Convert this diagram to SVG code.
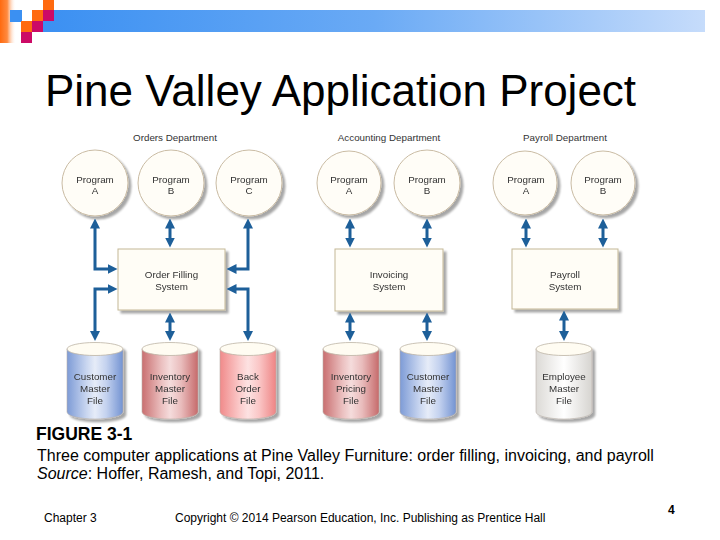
<svg xmlns="http://www.w3.org/2000/svg" width="720" height="540" viewBox="0 0 720 540">
<style>
  .t{font-family:"Liberation Sans",Arial,sans-serif;fill:#000}
  .d{font-family:"Liberation Sans",Arial,sans-serif;font-size:9.8px;fill:#333;text-anchor:middle}
  .circ{fill:#fffdf7;stroke:#c9bba3;stroke-width:1}
  .box{fill:#fffdf6;stroke:#c4b796;stroke-width:1}
  .cyltop{fill:#fffcf2;stroke:#bdb4a4;stroke-width:0.8}
  .cylbody{stroke:#b8b0a8;stroke-width:0.6}
  .conn{fill:none;stroke:#1d5f99;stroke-width:3;marker-start:url(#ah);marker-end:url(#ah)}
</style>
<defs>
  <linearGradient id="bar" x1="0" y1="0" x2="1" y2="0">
    <stop offset="0" stop-color="#3b90f2"/>
    <stop offset="0.5" stop-color="#6aaaf5"/>
    <stop offset="1" stop-color="#c6dcfb"/>
  </linearGradient>
  <linearGradient id="orng" x1="0" y1="0" x2="1" y2="0">
    <stop offset="0" stop-color="#ff6a10"/>
    <stop offset="0.45" stop-color="#ff8a40"/>
    <stop offset="1" stop-color="#ffffff" stop-opacity="0"/>
  </linearGradient>
  <linearGradient id="gBlue" x1="0" y1="0" x2="1" y2="0">
    <stop offset="0" stop-color="#7d9bd6"/>
    <stop offset="0.35" stop-color="#c9d6f0"/>
    <stop offset="0.5" stop-color="#e6ecf8"/>
    <stop offset="0.7" stop-color="#c4d2ef"/>
    <stop offset="1" stop-color="#7393d2"/>
  </linearGradient>
  <linearGradient id="gRed" x1="0" y1="0" x2="1" y2="0">
    <stop offset="0" stop-color="#c96f70"/>
    <stop offset="0.35" stop-color="#ebc0c0"/>
    <stop offset="0.5" stop-color="#f5dcdc"/>
    <stop offset="0.7" stop-color="#e9bcbc"/>
    <stop offset="1" stop-color="#c66a6b"/>
  </linearGradient>
  <linearGradient id="gPink" x1="0" y1="0" x2="1" y2="0">
    <stop offset="0" stop-color="#f08a8a"/>
    <stop offset="0.35" stop-color="#fbcaca"/>
    <stop offset="0.5" stop-color="#fde2e2"/>
    <stop offset="0.7" stop-color="#fac6c6"/>
    <stop offset="1" stop-color="#ee8484"/>
  </linearGradient>
  <linearGradient id="gGray" x1="0" y1="0" x2="1" y2="0">
    <stop offset="0" stop-color="#dcdad6"/>
    <stop offset="0.5" stop-color="#ffffff"/>
    <stop offset="1" stop-color="#d6d4d0"/>
  </linearGradient>
  <filter id="sh" x="-20%" y="-20%" width="150%" height="150%">
    <feGaussianBlur in="SourceAlpha" stdDeviation="1.3"/>
    <feOffset dx="3" dy="3"/>
    <feComponentTransfer result="s"><feFuncA type="linear" slope="0.35"/></feComponentTransfer>
    <feMerge><feMergeNode in="s"/><feMergeNode in="SourceGraphic"/></feMerge>
  </filter>
  <marker id="ah" viewBox="0 0 10 10" refX="5" refY="5" markerWidth="10" markerHeight="10" markerUnits="userSpaceOnUse" orient="auto-start-reverse">
    <path d="M0,0 L10,5 L0,10 z" fill="#1d5f99"/>
  </marker>
</defs>

<g id="decor">
  <rect x="0" y="0" width="16" height="43" fill="url(#orng)"/>
  <rect x="43" y="10" width="662" height="22" fill="url(#bar)"/>
  <rect x="10" y="10" width="12" height="12" fill="#3b90f2"/>
  <rect x="43" y="0" width="11" height="10" fill="#ff6a10"/>
  <rect x="32" y="10" width="11" height="11" fill="#ff6a10"/>
  <rect x="43" y="10" width="11" height="11" fill="#cc0a66"/>
  <rect x="21" y="21" width="11" height="11" fill="#ff6a10"/>
  <rect x="32" y="21" width="11" height="11" fill="#cc0a66"/>
  <rect x="21" y="32" width="11" height="11" fill="#cc0a66"/>
</g>

<text id="title" class="t" x="45" y="106" font-size="44">Pine Valley Application Project</text>

<g id="departments">
  <text class="d" x="175" y="141">Orders Department</text>
  <text class="d" x="389" y="141">Accounting Department</text>
  <text class="d" x="565" y="141">Payroll Department</text>
</g>

<g id="orders-program-a" filter="url(#sh)"><circle class="circ" cx="95" cy="183" r="33"/><text class="d" x="95" y="182.5">Program</text><text class="d" x="95" y="194">A</text></g>
<g id="orders-program-b" filter="url(#sh)"><circle class="circ" cx="171" cy="183" r="33"/><text class="d" x="171" y="182.5">Program</text><text class="d" x="171" y="194">B</text></g>
<g id="orders-program-c" filter="url(#sh)"><circle class="circ" cx="249" cy="183" r="33"/><text class="d" x="249" y="182.5">Program</text><text class="d" x="249" y="194">C</text></g>
<g id="accounting-program-a" filter="url(#sh)"><circle class="circ" cx="349" cy="183" r="32"/><text class="d" x="349" y="182.5">Program</text><text class="d" x="349" y="194">A</text></g>
<g id="accounting-program-b" filter="url(#sh)"><circle class="circ" cx="427" cy="183" r="33"/><text class="d" x="427" y="182.5">Program</text><text class="d" x="427" y="194">B</text></g>
<g id="payroll-program-a" filter="url(#sh)"><circle class="circ" cx="525" cy="183" r="32"/><text class="d" x="526" y="182.5">Program</text><text class="d" x="526" y="194">A</text></g>
<g id="payroll-program-b" filter="url(#sh)"><circle class="circ" cx="603" cy="183" r="32"/><text class="d" x="603" y="182.5">Program</text><text class="d" x="603" y="194">B</text></g>

<g id="order-filling-system" filter="url(#sh)"><rect class="box" x="118" y="249" width="107" height="61"/><text class="d" x="171.5" y="278">Order Filling</text><text class="d" x="171.5" y="290">System</text></g>
<g id="invoicing-system" filter="url(#sh)"><rect class="box" x="335" y="249" width="108" height="62"/><text class="d" x="389" y="278">Invoicing</text><text class="d" x="389" y="290">System</text></g>
<g id="payroll-system" filter="url(#sh)"><rect class="box" x="512" y="249" width="106" height="60"/><text class="d" x="565" y="278">Payroll</text><text class="d" x="565" y="290">System</text></g>

<g id="customer-master-file-1" filter="url(#sh)">
  <path class="cylbody" fill="url(#gBlue)" d="M67,349 V412 A28,7 0 0 0 123,412 V349 Z"/>
  <ellipse class="cyltop" cx="95" cy="349" rx="28" ry="6.5"/>
  <text class="d" x="95" y="379.5">Customer</text><text class="d" x="95" y="391.5">Master</text><text class="d" x="95" y="403.5">File</text>
</g>
<g id="inventory-master-file" filter="url(#sh)">
  <path class="cylbody" fill="url(#gRed)" d="M142,349 V412 A28,7 0 0 0 198,412 V349 Z"/>
  <ellipse class="cyltop" cx="170" cy="349" rx="28" ry="6.5"/>
  <text class="d" x="170" y="379.5">Inventory</text><text class="d" x="170" y="391.5">Master</text><text class="d" x="170" y="403.5">File</text>
</g>
<g id="back-order-file" filter="url(#sh)">
  <path class="cylbody" fill="url(#gPink)" d="M220,349 V412 A28,7 0 0 0 276,412 V349 Z"/>
  <ellipse class="cyltop" cx="248" cy="349" rx="28" ry="6.5"/>
  <text class="d" x="248" y="379.5">Back</text><text class="d" x="248" y="391.5">Order</text><text class="d" x="248" y="403.5">File</text>
</g>
<g id="inventory-pricing-file" filter="url(#sh)">
  <path class="cylbody" fill="url(#gRed)" d="M323,349 V412 A28,7 0 0 0 379,412 V349 Z"/>
  <ellipse class="cyltop" cx="351" cy="349" rx="28" ry="6.5"/>
  <text class="d" x="351" y="379.5">Inventory</text><text class="d" x="351" y="391.5">Pricing</text><text class="d" x="351" y="403.5">File</text>
</g>
<g id="customer-master-file-2" filter="url(#sh)">
  <path class="cylbody" fill="url(#gBlue)" d="M400,349 V412 A28,7 0 0 0 456,412 V349 Z"/>
  <ellipse class="cyltop" cx="428" cy="349" rx="28" ry="6.5"/>
  <text class="d" x="428" y="379.5">Customer</text><text class="d" x="428" y="391.5">Master</text><text class="d" x="428" y="403.5">File</text>
</g>
<g id="employee-master-file" filter="url(#sh)">
  <path class="cylbody" fill="url(#gGray)" d="M536,349 V412 A28,7 0 0 0 592,412 V349 Z"/>
  <ellipse class="cyltop" cx="564" cy="349" rx="28" ry="6.5"/>
  <text class="d" x="564" y="379.5">Employee</text><text class="d" x="564" y="391.5">Master</text><text class="d" x="564" y="403.5">File</text>
</g>

<g id="connectors">
  <path class="conn" d="M95,223.5 V269 H112.5"/>
  <path class="conn" d="M112.5,289 H95 V336"/>
  <path class="conn" d="M231.5,269 H248 V223.5"/>
  <path class="conn" d="M231.5,289 H248 V336"/>
  <path class="conn" d="M170,223.5 V242.5"/>
  <path class="conn" d="M170,317.5 V336"/>
  <path class="conn" d="M350,223.5 V242.5"/>
  <path class="conn" d="M427,223.5 V242.5"/>
  <path class="conn" d="M350,317.5 V336"/>
  <path class="conn" d="M427,317.5 V336"/>
  <path class="conn" d="M526,223.5 V242.5"/>
  <path class="conn" d="M603,223.5 V242.5"/>
  <path class="conn" d="M564,315.5 V336"/>
</g>

<g id="caption">
  <text class="t" x="36" y="440" font-size="17.5" font-weight="bold">FIGURE 3-1</text>
  <text class="t" x="37" y="461" font-size="16">Three computer applications at Pine Valley Furniture: order filling, invoicing, and payroll</text>
  <text class="t" x="37" y="479" font-size="16"><tspan font-style="italic">Source</tspan>: Hoffer, Ramesh, and Topi, 2011.</text>
</g>

<g id="footer">
  <text class="t" x="44" y="522" font-size="12">Chapter 3</text>
  <text class="t" x="175" y="522" font-size="12">Copyright © 2014 Pearson Education, Inc. Publishing as Prentice Hall</text>
  <text class="t" x="668" y="514" font-size="12" font-weight="bold">4</text>
</g>
</svg>
